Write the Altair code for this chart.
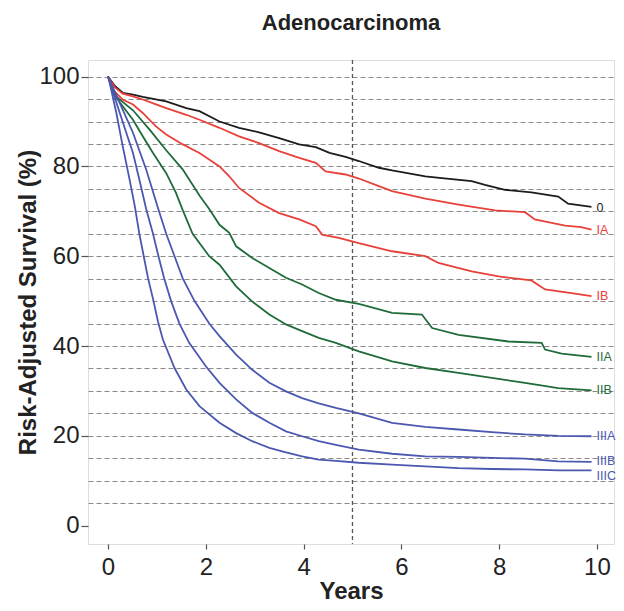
import altair as alt
import pandas as pd

FONT = "Liberation Sans"

stages = ["0", "IA", "IB", "IIA", "IIB", "IIIA", "IIIB", "IIIC"]
stage_colors = ["#1c1c1c", "#e8403a", "#e8403a", "#1f6b3a", "#1f6b3a",
                "#4a58b0", "#4a58b0", "#4a58b0"]

years_0 = [0, 0.14, 0.30, 0.51, 0.71, 1.19, 1.6, 1.87, 2.28, 2.68, 3.09, 3.5, 3.91,
           4.25, 4.53, 4.86, 5.13, 5.54, 5.81, 6.49, 6.83, 7.44, 7.71, 8.12, 8.66,
           9.21, 9.41, 9.89]
surv_0 = [100, 97.9, 96.4, 96.0, 95.5, 94.5, 93.0, 92.3, 90.0, 88.6, 87.6, 86.3, 84.9,
          84.3, 83.0, 82.1, 81.2, 79.7, 79.1, 77.8, 77.4, 76.7, 75.9, 74.8, 74.2,
          73.3, 71.7, 71.0]

years_ia = [0, 0.14, 0.30, 0.51, 0.71, 0.98, 1.19, 1.6, 1.87, 2.28, 2.68, 3.09, 3.5,
            3.91, 4.25, 4.45, 4.86, 5.13, 5.54, 5.81, 6.49, 7.17, 7.92, 8.53, 8.73,
            9.35, 9.68, 9.89]
surv_ia = [100, 97.6, 96.2, 95.6, 94.9, 93.8, 93.0, 91.5, 90.4, 88.6, 86.7, 85.2, 83.4,
           81.9, 80.8, 78.9, 78.2, 77.3, 75.6, 74.5, 72.8, 71.5, 70.2, 69.8, 68.2,
           66.8, 66.5, 65.9]

years_ib = [0, 0.1, 0.3, 0.51, 0.71, 0.98, 1.19, 1.53, 1.87, 2.28, 2.48, 2.68, 3.09,
            3.5, 3.91, 4.25, 4.38, 4.72, 5.13, 5.81, 6.49, 6.76, 7.44, 7.99, 8.66,
            8.94, 9.48, 9.89]
surv_ib = [100, 97.1, 94.9, 93.8, 91.9, 88.9, 87.1, 84.9, 83.0, 80.0, 77.8, 75.2, 71.9,
           69.6, 68.2, 66.7, 64.8, 64.1, 62.9, 61.1, 60.0, 58.5, 56.6, 55.5, 54.6,
           52.6, 51.8, 51.1]

years_iia = [0, 0.17, 0.51, 0.85, 1.19, 1.53, 1.87, 2.07, 2.28, 2.48, 2.62, 2.95, 3.36,
             3.64, 3.97, 4.31, 4.66, 5.13, 5.81, 6.42, 6.63, 7.17, 8.19, 8.87, 8.94,
             9.28, 9.89]
surv_iia = [100, 95.5, 92.5, 88.2, 83.6, 79.3, 73.5, 70.5, 67.0, 65.2, 62.2, 59.6, 57.0,
            55.2, 53.7, 51.8, 50.3, 49.4, 47.4, 47.0, 44.0, 42.5, 41.0, 40.7, 39.2,
            38.3, 37.6]

years_iib = [0, 0.1, 0.3, 0.51, 0.71, 0.92, 1.19, 1.39, 1.53, 1.73, 2.07, 2.28, 2.62,
             2.95, 3.30, 3.64, 3.97, 4.31, 4.66, 5.13, 5.81, 6.49, 7.17, 7.85, 8.53,
             9.21, 9.89]
surv_iib = [100, 96.4, 93.4, 90.4, 86.7, 83.0, 78.5, 74.1, 70.2, 65.0, 60.0, 58.1, 53.3,
            49.9, 47.0, 44.8, 43.3, 41.8, 40.7, 38.8, 36.6, 35.1, 34.0, 32.9, 31.8,
            30.6, 30.1]

years_iiia = [0, 0.03, 0.24, 0.51, 0.78, 1.02, 1.19, 1.36, 1.53, 1.77, 2.07, 2.28, 2.62,
              2.95, 3.30, 3.64, 3.97, 4.31, 4.66, 5.13, 5.81, 6.49, 7.17, 7.85, 8.53,
              9.21, 9.89]
surv_iiia = [100, 99.3, 94.1, 87.5, 79.3, 70.8, 65.0, 60.0, 55.0, 50.0, 45.0, 42.2, 38.1,
             34.7, 31.8, 29.9, 28.4, 27.2, 26.2, 25.0, 22.9, 22.0, 21.4, 20.8, 20.3,
             20.0, 19.9]

years_iiib = [0, 0.03, 0.24, 0.51, 0.64, 0.78, 0.92, 1.02, 1.15, 1.29, 1.46, 1.66, 2.0,
              2.28, 2.62, 2.95, 3.30, 3.64, 3.97, 4.31, 4.66, 5.13, 5.81, 6.49, 7.17,
              7.85, 8.53, 9.21, 9.89]
surv_iiib = [100, 99.0, 91.9, 83.0, 77.1, 70.5, 65.0, 60.5, 55.0, 50.0, 45.0, 40.7, 35.5,
             31.8, 28.1, 25.1, 22.9, 21.0, 19.9, 18.8, 18.0, 16.9, 16.0, 15.4, 15.3,
             15.1, 14.9, 14.3, 14.2]

years_iiic = [0, 0.03, 0.17, 0.30, 0.44, 0.55, 0.64, 0.73, 0.82, 0.92, 1.02, 1.12, 1.36,
              1.6, 1.87, 2.28, 2.62, 2.95, 3.30, 3.64, 3.97, 4.31, 4.66, 5.13, 5.81,
              6.49, 7.17, 7.85, 8.53, 9.21, 9.89]
surv_iiic = [100, 98.8, 91.9, 84.5, 77.1, 71.0, 65.0, 60.0, 55.0, 50.5, 45.5, 41.5, 35.1,
             30.3, 26.6, 22.9, 20.6, 18.8, 17.3, 16.3, 15.4, 14.7, 14.4, 14.0, 13.6,
             13.2, 12.8, 12.6, 12.5, 12.3, 12.3]

label_surv = [70.8, 65.9, 51.1, 37.6, 30.1, 19.9, 14.3, 11.1]
year_ticks = [0, 2, 4, 6, 8, 10]
surv_levels = list(range(0, 101, 5))
landmark_year = [5]

series = [(years_0, surv_0), (years_ia, surv_ia), (years_ib, surv_ib),
          (years_iia, surv_iia), (years_iib, surv_iib), (years_iiia, surv_iiia),
          (years_iiib, surv_iiib), (years_iiic, surv_iiic)]

rows = []
for st, (ys, vs) in zip(stages, series):
    for y, v in zip(ys, vs):
        rows.append({"year": y, "surv": v, "stage": st})
curves = pd.DataFrame(rows)

labels = pd.DataFrame({
    "stage": stages,
    "year": [s[0][-1] for s in series],
    "surv": label_surv,
})

xscale = alt.Scale(domain=[-0.41, 10.35], nice=False, zero=False)
yscale = alt.Scale(domain=[-4.1, 103.7], nice=False, zero=False)
cscale = alt.Scale(domain=stages, range=stage_colors)

xaxis = alt.Axis(values=year_ticks, grid=False, domain=False, tickSize=5,
                 tickColor="#555", tickWidth=1.2, labelFontSize=24, labelFont=FONT,
                 labelColor="#222", labelPadding=6, title="Years",
                 titleFontSize=24, titleFont=FONT, titleFontWeight="bold",
                 titleColor="#222", titleY=54, titleBaseline="alphabetic")
yaxis = alt.Axis(values=surv_levels,
                 labelExpr="datum.value % 20 == 0 ? datum.label : ''",
                 tickOpacity={"condition": {"test": "datum.value % 20 != 0", "value": 0}, "value": 1},
                 gridOpacity={"condition": {"test": "datum.value == 0", "value": 0}, "value": 1},
                 grid=True, gridDash=[5, 3], gridColor="#8a8a8a", gridWidth=1,
                 domain=False, tickSize=7, tickColor="#555", tickWidth=1.2,
                 labelFontSize=24, labelFont=FONT, labelColor="#222", labelPadding=2,
                 title="Risk-Adjusted Survival (%)", titleFontSize=24, titleFont=FONT,
                 titleFontWeight="bold", titleColor="#222", titleX=-53, titleY=242,
                 titleAngle=270, titleBaseline="alphabetic", titleAlign="center")

x_enc = alt.X("year:Q", scale=xscale, axis=xaxis)
y_enc = alt.Y("surv:Q", scale=yscale, axis=yaxis)

lines = alt.Chart(curves).mark_line(strokeWidth=1.8).encode(
    x=x_enc, y=y_enc,
    color=alt.Color("stage:N", scale=cscale, legend=None),
    detail="stage:N",
)

landmark = alt.Chart(pd.DataFrame({"year": landmark_year})).mark_rule(
    strokeDash=[4, 3], color="#555", strokeWidth=1.3
).encode(x=x_enc)

text = alt.Chart(labels).mark_text(align="left", baseline="middle", dx=5,
                                    fontSize=12.5, font=FONT).encode(
    x=x_enc, y=y_enc,
    text="stage:N",
    color=alt.Color("stage:N", scale=cscale, legend=None),
)

chart = alt.layer(landmark, lines, text).properties(
    width=526, height=484,
    title=alt.TitleParams("Adenocarcinoma", fontSize=22, fontWeight="bold", font=FONT,
                          color="#222", anchor="middle", baseline="alphabetic", offset=7),
    autosize=alt.AutoSizeParams(type="none"),
    padding={"left": 80, "top": 52, "right": 2, "bottom": 59},
).configure_view(stroke="#555", strokeWidth=1.5).configure(background="white")

chart.save("out.html", embed_options={"renderer": "svg", "actions": False})
